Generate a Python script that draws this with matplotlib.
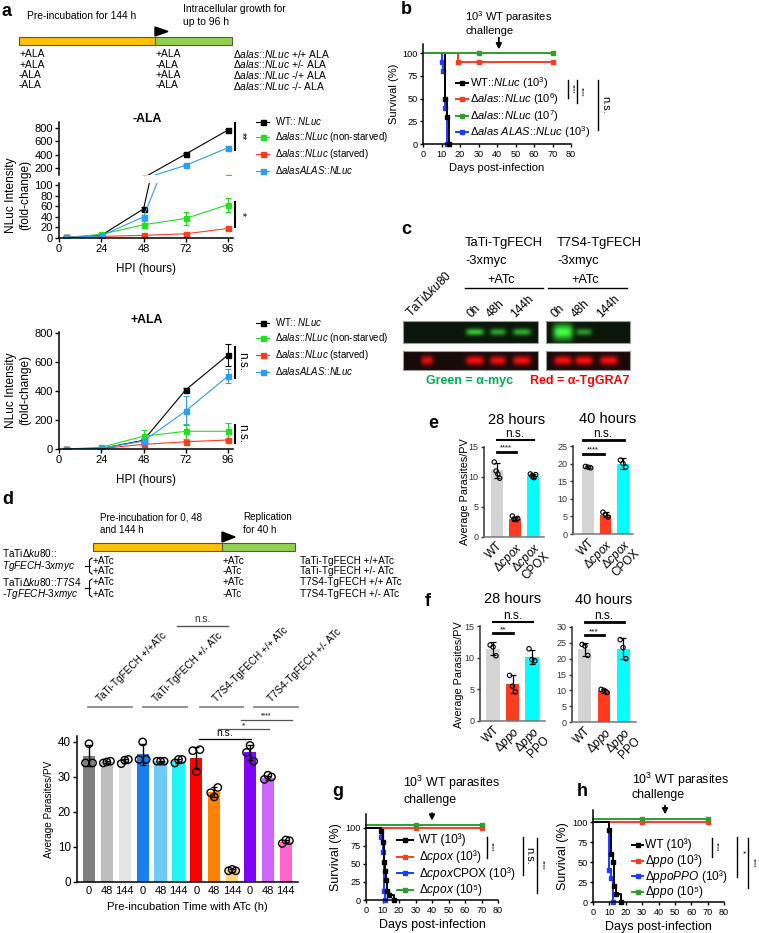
import numpy as np
import matplotlib.pyplot as plt
from matplotlib.lines import Line2D
from matplotlib.patches import Rectangle, Polygon

plt.rcParams['font.family'] = ['Liberation Sans', 'DejaVu Sans']
plt.rcParams['mathtext.fontset'] = 'custom'
plt.rcParams['mathtext.rm'] = 'Liberation Sans'
plt.rcParams['mathtext.it'] = 'Liberation Sans:italic'
plt.rcParams['mathtext.bf'] = 'Liberation Sans:bold'

# ---------------- data ----------------
hpi = [4, 24, 48, 72, 96]
# -ALA
noala_wt = [1, 5, 55, 410, 770]
noala_wt_err = [0, 1, 4, 15, 20]
noala_green = [1, 7, 25, 37, 63]
noala_green_err = [0, 1, 7, 13, 13]
noala_red = [1, 3, 5, 8, 18]
noala_red_err = [0, 0.5, 1, 1, 2]
noala_blue = [1, 4, 40, 240, 505]
noala_blue_err = [0, 1, 4, 15, 30]
# +ALA
ala_wt = [0, 3, 60, 408, 648]
ala_wt_err = [0, 1, 8, 10, 75]
ala_green = [0, 12, 88, 122, 122]
ala_green_err = [0, 3, 45, 50, 58]
ala_red = [0, 3, 32, 50, 62]
ala_red_err = [0, 1, 5, 5, 5]
ala_blue = [0, 5, 55, 262, 503]
ala_blue_err = [0, 1, 8, 100, 50]

# survival b
b_wt_t, b_wt_s = [0, 12, 13, 14], [100, 50, 30, 0]
b_red_t, b_red_s = [0, 19, 30, 70], [100, 90, 90, 90]
b_green_t, b_green_s = [0, 30, 70], [100, 100, 100]
b_blue_t, b_blue_s = [0, 10, 11, 12, 13], [100, 90, 80, 40, 0]
# survival g
g_wt_t, g_wt_s = [0, 9, 10, 11, 11.5, 12, 13, 14, 17], [100, 95, 80, 53, 40, 27, 13, 7, 0]
g_red_t, g_red_s = [0, 30, 70], [100, 100, 100]
g_blue_t, g_blue_s = [0, 9, 10.5, 11, 11.5], [100, 87, 67, 13, 0]
g_green_t, g_green_s = [0, 30, 70], [104, 104, 104]
# survival h
h_wt_t, h_wt_s = [0, 10, 11, 12, 13, 14, 17], [100, 90, 60, 50, 20, 10, 0]
h_red_t, h_red_s = [0, 30, 70], [100, 100, 100]
h_blue_t, h_blue_s = [0, 10, 11, 12], [100, 40, 30, 0]
h_green_t, h_green_s = [0, 30, 70], [104, 104, 104]

# western blot c (relative band intensity)
c_green1 = [0.0, 0.75, 0.6, 0.65]
c_green2 = [1.0, 0.55, 0.0]
c_red1 = [0.9, 1.0, 0.95, 1.0]
c_red2 = [1.0, 1.0, 1.0]

# bar chart d
d_ticks = ['0', '48', '144'] * 4
d_means = [36, 34.3, 34.5, 36.5, 34.5, 34.5, 35.5, 25.7, 3.3, 37, 29.8, 11.5]
d_err = [3, 0.3, 0.6, 3, 0.2, 0.5, 3.2, 1.5, 0.4, 2.2, 0.6, 0.5]
d_points = [[34, 39.5, 34], [34, 34.3, 34.5], [33.8, 34.8, 35], [35, 40, 35],
            [34.5, 34.5, 34.5], [34, 35, 35], [37.5, 31.5, 37.8], [25.5, 24.3, 27],
            [3.2, 3.6, 3.2], [37, 39, 34.5], [29.3, 30.5, 30], [11, 12, 11.8]]
d_groups = ['TaTi-TgFECH +/+ATc', 'TaTi-TgFECH +/- ATc',
            'T7S4-TgFECH +/+ ATc', 'T7S4-TgFECH +/- ATc']

# e / f
e_labels = ['WT', 'Δ$\\it{cpox}$', 'Δ$\\it{cpox}$\nCPOX']
e28_means, e28_err = [11.1, 3.0, 10.2], [1.2, 0.3, 0.3]
e28_pts = [[12.5, 11, 10.5, 9.8], [3.5, 3, 2.9, 3.1], [10.5, 10.2, 9.9, 10.4]]
e40_means, e40_err = [19, 5.5, 20], [0.3, 0.7, 1.5]
e40_pts = [[19.2, 19, 18.8], [6.2, 5.5, 4.8], [21, 20, 19]]
f_labels = ['WT', 'Δ$\\it{ppo}$', 'Δ$\\it{ppo}$\nPPO']
f28_means, f28_err = [11.4, 5.8, 10.1], [1.0, 1.4, 1.1]
f28_pts = [[12, 11.7, 10.3], [7.2, 5.5, 4.6], [11.4, 9.7, 9.5]]
f40_means, f40_err = [23, 9.8, 23.2], [2.0, 0.5, 3.3]
f40_pts = [[24.5, 24, 21], [10.3, 10, 9.3], [26, 23.5, 20]]

g_labels = ['WT (10³)', 'Δ$\\it{cpox}$ (10³)', 'Δ$\\it{cpox}$CPOX (10³)', 'Δ$\\it{cpox}$ (10⁵)']
h_labels = ['WT (10³)', 'Δ$\\it{ppo}$ (10³)', 'Δ$\\it{ppoPPO}$ (10³)', 'Δ$\\it{ppo}$ (10⁵)']

# ---------------- figure ----------------
W, H = 759, 933
fig = plt.figure(figsize=(W / 100, H / 100), dpi=100)

BLACK = '#000000'
LGREEN = '#22e022'
RED = '#ff3b1f'
LBLUE = '#2a9df4'
DGREEN = '#2e9e2e'
BLUE = '#1a3cff'


def px_axes(l, t, r, b):
    ax = fig.add_axes([l / W, 1 - b / H, (r - l) / W, (b - t) / H])
    ax.set_facecolor('none')
    ax.spines[['top', 'right']].set_visible(False)
    for s in ax.spines.values():
        s.set_linewidth(1.1)
    ax.tick_params(direction='out', length=3, width=1.0, labelsize=8, pad=1.5)
    return ax


ov = fig.add_axes([0, 0, 1, 1], zorder=10)
ov.set_facecolor('none')


def T(x, y, s, size=7, **kw):
    kw.setdefault('va', 'center')
    ov.text(x, y, s, fontsize=size, **kw)


def panel(x, y, s):
    T(x, y, s, size=13, weight='bold', ha='left')


# ---------- panel a: timeline ----------
panel(2, 11, 'a')
ov.add_patch(Rectangle((19, 37), 136, 8, facecolor='#ffc000', edgecolor='#555555', lw=0.8))
ov.add_patch(Rectangle((155, 37), 77, 8, facecolor='#92d050', edgecolor='#555555', lw=0.8))
ov.add_patch(Polygon([(155, 27), (155, 36), (168, 31.5)], closed=True, color='k'))
T(27, 16, 'Pre-incubation for 144 h', size=7.4)
T(183, 9, 'Intracellular growth for', size=7.5)
T(183, 22, 'up to 96 h', size=7.5)
a_col1 = ['+ALA', '+ALA', '-ALA', '-ALA']
a_col2 = ['+ALA', '-ALA', '+ALA', '-ALA']
a_col3 = ['+/+', '+/-', '-/+', '-/-']
for i, yy in enumerate([54, 64.5, 75, 85.5]):
    T(19, yy, a_col1[i], size=7.4)
    T(156, yy, a_col2[i], size=7.4)
    T(233, yy, 'Δ$\\it{alas}$::$\\it{NLuc}$ ' + a_col3[i] + ' ALA', size=7.4)


def series_plot(ax, ys, errs, cols, ms=3.6):
    for y, e, c in zip(ys, errs, cols):
        ax.errorbar(hpi, y, yerr=e, color=c, marker='s', ms=ms, lw=0.8,
                    capsize=2, elinewidth=0.8, capthick=0.8, clip_on=True)


a_cols = [BLACK, LGREEN, RED, LBLUE]
a_labels = ['WT:: $\\it{NLuc}$', 'Δ$\\it{alas}$::$\\it{NLuc}$ (non-starved)',
            'Δ$\\it{alas}$::$\\it{NLuc}$ (starved)', 'Δ$\\it{alasALAS}$::$\\it{NLuc}$']


def a_legend(ax, x, y):
    hs = [Line2D([], [], color=c, marker='s', ms=3.6, lw=0.8) for c in a_cols]
    ax.legend(hs, a_labels, loc='upper left', bbox_to_anchor=(x / W, 1 - y / H),
              bbox_transform=fig.transFigure, frameon=False, fontsize=6.9,
              handlelength=1.4, labelspacing=0.32, borderaxespad=0, borderpad=0,
              handletextpad=0.6)


# -ALA broken axis
au = px_axes(59, 122, 233, 175)
al = px_axes(59, 183, 233, 238)
noala = [noala_wt, noala_green, noala_red, noala_blue]
noala_e = [noala_wt_err, noala_green_err, noala_red_err, noala_blue_err]
series_plot(au, noala, noala_e, a_cols)
series_plot(al, noala, noala_e, a_cols)
au.set_ylim(95, 890)
au.set_yticks([200, 400, 600, 800])
au.set_xlim(0, 98.8)
au.spines['bottom'].set_visible(False)
au.set_xticks([])
al.set_ylim(0, 103.8)
al.set_yticks([0, 20, 40, 60, 80, 100])
al.set_xlim(0, 98.8)
al.set_xticks([0, 24, 48, 72, 96])
al.set_xlabel('HPI (hours)', fontsize=8.4, labelpad=6)
T(147, 119, '-ALA', size=8.8, weight='bold', ha='center')
T(18, 195, 'NLuc Intensity\n(fold-change)', size=8.6, rotation=90, ha='center',
  multialignment='center')
a_legend(au, 256, 115)
# significance -ALA
ov.plot([235, 235], [123, 150], color='k', lw=1.5)
T(242, 136, '**', size=7.5, rotation=-90, ha='center')
ov.plot([235, 235], [202, 227], color='k', lw=1.5)
T(242, 214, '*', size=7.5, rotation=-90, ha='center')

# +ALA
ap = px_axes(59, 332, 233, 449)
ala = [ala_wt, ala_green, ala_red, ala_blue]
ala_e = [ala_wt_err, ala_green_err, ala_red_err, ala_blue_err]
series_plot(ap, ala, ala_e, a_cols)
ap.set_ylim(0, 806)
ap.set_yticks([0, 200, 400, 600, 800])
ap.set_xlim(0, 98.8)
ap.set_xticks([0, 24, 48, 72, 96])
ap.set_xlabel('HPI (hours)', fontsize=8.4, labelpad=6)
T(147, 320, '+ALA', size=8.8, weight='bold', ha='center')
T(18, 390, 'NLuc Intensity\n(fold-change)', size=8.6, rotation=90, ha='center',
  multialignment='center')
a_legend(ap, 256, 316)
ov.plot([235, 235], [347, 378], color='k', lw=1.5)
T(242, 362, 'n.s.', size=8.5, rotation=-90, ha='center')
ov.plot([235, 235], [425, 443], color='k', lw=1.5)
T(242, 434, 'n.s.', size=8.5, rotation=-90, ha='center')


# ---------- survival helper ----------
def surv(ax, series, cols, ms=3.2):
    for (t, s), c in zip(series, cols):
        ax.step(t, s, where='post', color=c, lw=1.4, clip_on=False)
        ax.plot(t[1:], s[1:], ls='none', marker='s', ms=ms, color=c, clip_on=False)


def surv_axes(ax, ylim, fs):
    ax.set_xlim(0, 80)
    ax.set_ylim(0, ylim)
    ax.set_xticks(range(0, 81, 10))
    ax.set_yticks([0, 25, 50, 75, 100])
    ax.tick_params(labelsize=6.6, length=2.5)
    ax.set_xlabel('Days post-infection', fontsize=fs, labelpad=3)
    ax.set_ylabel('Survival (%)', fontsize=fs, labelpad=2)


def surv_legend(labels, x0, x1, xt, y0, pitch, fs):
    # legend rows drawn by hand so the row pitch matches the original
    for i, (lab, c) in enumerate(zip(labels, [BLACK, RED, BLUE, DGREEN])):
        yy = y0 + i * pitch
        ov.plot([x0, x1], [yy, yy], color=c, lw=1.4)
        ov.plot([(x0 + x1) / 2], [yy], marker='s', ms=3.2, color=c)
        T(xt, yy, lab, size=fs)


# ---------- panel b ----------
panel(401, 9, 'b')
ab = px_axes(423, 44, 571, 144)
surv(ab, [(b_blue_t, b_blue_s), (b_wt_t, b_wt_s), (b_red_t, b_red_s), (b_green_t, b_green_s)],
     [BLUE, BLACK, RED, DGREEN])
surv_axes(ab, 110, 8)
T(465, 17, '10$^3$ WT parasites', size=8)
T(465, 31, 'challenge', size=8)
ab.annotate('', xy=(41, 101), xytext=(41, 120), xycoords='data', annotation_clip=False,
            arrowprops=dict(arrowstyle='-|>', color='k', lw=1.3, mutation_scale=8))
b_labels = ['WT::$\\it{NLuc}$ (10$^3$)', 'Δ$\\it{alas}$::$\\it{NLuc}$ (10$^6$)',
            'Δ$\\it{alas}$::$\\it{NLuc}$ (10$^7$)', 'Δ$\\it{alas\\ ALAS}$::$\\it{NLuc}$ (10$^3$)']
hs = [Line2D([], [], color=c, marker='s', ms=3.2, lw=1.4) for c in [BLACK, RED, DGREEN, BLUE]]
ab.legend(hs, b_labels, loc='upper left', bbox_to_anchor=(456 / W, 1 - 75 / H),
          bbox_transform=fig.transFigure, frameon=False, fontsize=8, handlelength=1.1,
          labelspacing=0.05, borderaxespad=0, borderpad=0, handletextpad=0.2)
ov.plot([568, 568], [80, 98], color='k', lw=1.0)
T(572, 89, '****', size=4.5, rotation=-90, ha='center')
ov.plot([577, 577], [80, 103], color='k', lw=1.0)
T(581, 92, '****', size=4.5, rotation=-90, ha='center')
ov.plot([598, 598], [80, 130], color='k', lw=1.0)
T(605, 105, 'n.s.', size=8, rotation=-90, ha='center')


# ---------- panel c ----------
panel(401, 229, 'c')
T(465, 243, 'TaTi-TgFECH', size=9.3)
T(465, 261, '-3xmyc', size=9.3)
T(557, 243, 'T7S4-TgFECH', size=9.3)
T(557, 261, '-3xmyc', size=9.3)
T(501, 280, '+ATc', size=9.2, ha='center')
ov.plot([465, 543], [288, 288], color='k', lw=1.0)
T(585, 280, '+ATc', size=9.2, ha='center')
ov.plot([548, 627], [288, 288], color='k', lw=1.0)
T(411, 318, 'TaTiΔ$\\it{ku80}$', size=8.6, rotation=45, rotation_mode='anchor',
  ha='left', va='baseline')
for xx, s in zip([472, 491, 515, 556, 576, 601], ['0h', '48h', '144h'] * 2):
    T(xx, 318, s, size=8.6, rotation=45, rotation_mode='anchor', ha='left', va='baseline')


def blot(x0, x1, y0, y1, lanes, intens, widths, hh, col, bg):
    nx, ny = int((x1 - x0) * 4), int((y1 - y0) * 4)
    X, Y = np.meshgrid(np.linspace(x0, x1, nx), np.linspace(y0, y1, ny))
    yc = (y0 + y1) / 2
    img = np.zeros_like(X)
    for xc, v, w, h in zip(lanes, intens, widths, hh):
        img += v * np.exp(-((X - xc) / w) ** 4) * np.exp(-((Y - yc) / h) ** 2)
    img = np.clip(img, 0, 1)[..., None]
    rgb = np.array(bg)[None, None, :] * (1 - img) + np.array(col)[None, None, :] * img
    ov.imshow(rgb, extent=(x0, x1, y1, y0), interpolation='bilinear', zorder=2)
    ov.add_patch(Rectangle((x0, y0), x1 - x0, y1 - y0, fill=False, ec='#9a9a9a', lw=0.8, zorder=3))


gcol, rcol = (0.25, 1.0, 0.25), (1.0, 0.05, 0.05)
gbg, rbg = (0.04, 0.09, 0.04), (0.1, 0.04, 0.04)
blot(403, 538, 321, 343, [427, 475, 498, 522], c_green1, [8, 9, 8, 9], [3.5] * 4, gcol, gbg)
blot(546, 630, 321, 343, [563, 584, 609], c_green2, [10, 8, 8], [8, 3.5, 3.5], gcol, gbg)
blot(403, 538, 351, 370, [427, 475, 498, 522], c_red1, [6, 9, 8, 9], [4.5] * 4, rcol, rbg)
blot(546, 630, 351, 370, [563, 584, 609], c_red2, [9, 9, 9], [4.5] * 3, rcol, rbg)
T(426, 381, 'Green = α-myc', size=9, color='#00b050', weight='bold')
T(530, 381, 'Red = α-TgGRA7', size=9, color='#ff0000', weight='bold')


# ---------- panel d ----------
panel(2, 499, 'd')
ov.add_patch(Rectangle((93, 543), 129, 8, facecolor='#ffc000', edgecolor='#555555', lw=0.8))
ov.add_patch(Rectangle((222, 543), 73, 8, facecolor='#92d050', edgecolor='#555555', lw=0.8))
ov.add_patch(Polygon([(222, 532), (222, 542), (235, 537)], closed=True, color='k'))
T(100, 517, 'Pre-incubation for 0, 48', size=7.1)
T(100, 530, 'and 144 h', size=7.1)
T(243, 517, 'Replication', size=7.1)
T(243, 530, 'for 40 h', size=7.1)
d_col2 = ['+ATc', '-ATc', '+ATc', '-ATc']
d_col3 = ['TaTi-TgFECH +/+ATc', 'TaTi-TgFECH +/- ATc', 'T7S4-TgFECH +/+ ATc', 'T7S4-TgFECH +/- ATc']
for i, yy in enumerate([561, 571, 582, 594]):
    T(93, yy, '+ATc', size=7.2)
    T(223, yy, d_col2[i], size=7.2)
    T(300, yy, d_col3[i], size=7.2)
T(2, 553, 'TaTiΔ$\\it{ku80}$::', size=7.2)
T(2, 566, '$\\it{TgFECH}$-$\\it{3xmyc}$', size=7.2)
T(2, 582, 'TaTiΔ$\\it{ku80}$::$\\it{T7S4}$', size=7.2)
T(2, 594, '-$\\it{TgFECH}$-$\\it{3xmyc}$', size=7.2)
for y0, y1 in [(558, 574), (579, 597)]:
    ym = (y0 + y1) / 2
    ov.plot([92, 89.5, 89.5, 92], [y0, y0 + 2, y1 - 2, y1], color='k', lw=0.8)
    ov.plot([85, 89.5], [ym, ym], color='k', lw=0.8)

ad = px_axes(77, 736, 298, 882)
d_cols = ['#7f7f7f', '#bdbdbd', '#e4e4e4', '#1580f0', '#6dccf7', '#1ff5f5',
          '#ff0000', '#ff8200', '#ffd27a', '#7f00ff', '#cc66ff', '#ff66cc']
xs = np.arange(len(d_means))
ad.bar(xs, d_means, width=0.68, color=d_cols, zorder=1)
ad.errorbar(xs, d_means, yerr=d_err, ls='none', color='k', capsize=2.5, elinewidth=1,
            capthick=1, zorder=2)
for i, pts in enumerate(d_points):
    ad.scatter(xs[i] + np.array([-0.2, 0, 0.2]), pts, s=28, facecolor='none',
               edgecolor='k', lw=1.0, zorder=3, clip_on=False)
ad.set_xlim(-0.67, 11.68)
ad.set_ylim(0, 41.7)
ad.set_yticks([0, 10, 20, 30, 40])
ad.set_xticks(xs)
ad.set_xticklabels(d_ticks)
ad.tick_params(axis='x', length=0, pad=3, labelsize=8)
ad.tick_params(axis='y', labelsize=8.4)
ad.set_xlabel('Pre-incubation Time with ATc (h)', fontsize=8.1, labelpad=4)
ad.set_ylabel('Average Parasites/PV', fontsize=7.2, labelpad=3)
for xx, s in zip([101, 157, 217, 272], d_groups):
    T(xx, 703, s, size=7.2, rotation=45, rotation_mode='anchor', ha='left', va='baseline')
for x0, x1 in [(88, 132), (143, 187), (200, 243), (254, 298)]:
    ov.plot([x0, x1], [707, 707], color='#8a8a8a', lw=1.3)
ov.plot([177, 228], [626, 626], color='#555555', lw=1.0)
T(202, 619, 'n.s.', size=7.2, ha='center', color='#333333')
ov.plot([199, 251], [739, 739], color='k', lw=0.9)
T(225, 733, 'n.s.', size=7.5, ha='center')
ov.plot([218, 269], [729, 729], color='#555555', lw=0.9)
T(243, 726, '*', size=6, ha='center')
ov.plot([241, 292], [720, 720], color='#555555', lw=0.9)
T(266, 716, '****', size=5, ha='center')


# ---------- panels e / f ----------
ef_cols = ['#d4d4d4', '#ff3b1f', '#00ffff']


def small_bars(l, t, r, b, xlim, ylim, yt, means, errs, pts, labels, title, tx):
    ax = px_axes(l, t, r, b)
    x = np.arange(3)
    ax.bar(x, means, width=0.68, color=ef_cols, zorder=1)
    ax.errorbar(x, means, yerr=errs, ls='none', color='k', capsize=2, elinewidth=0.9,
                capthick=0.9, zorder=2)
    for i, p in enumerate(pts):
        off = np.linspace(-0.15, 0.15, len(p))
        ax.scatter(x[i] + off, p, s=10, facecolor='none', edgecolor='k', lw=0.8, zorder=3)
    ax.set_xlim(*xlim)
    ax.set_ylim(0, ylim)
    ax.set_yticks(yt)
    ax.set_xticks(x)
    ax.set_xticklabels(labels, rotation=45, ha='right', rotation_mode='anchor',
                       fontsize=8.5, linespacing=0.9)
    ax.tick_params(axis='x', length=0, pad=2)
    ax.tick_params(axis='y', labelsize=6.5, length=2.5, colors='#333333')
    ax.spines['bottom'].set_color('#777777')
    ax.spines['left'].set_color('#333333')
    T(tx, t - 27, title, size=10.5, ha='center')
    return ax


panel(428, 424, 'e')
small_bars(484, 447, 544, 537, (-0.72, 2.61), 15, [0, 5, 10, 15], e28_means, e28_err,
           e28_pts, e_labels, '28 hours', 517)
small_bars(573, 446, 633, 534, (-0.86, 2.57), 25, [0, 5, 10, 15, 20, 25], e40_means,
           e40_err, e40_pts, e_labels, '40 hours', 608)
T(465, 492, 'Average Parasites/PV', size=7.8, rotation=90, ha='center')
ov.plot([497, 516], [452, 452], color='k', lw=2)
T(506, 448, '****', size=5.5, ha='center')
ov.plot([497, 534], [440, 440], color='k', lw=1.5)
T(515, 434, 'n.s.', size=8.5, ha='center')
ov.plot([583, 604], [454, 454], color='k', lw=2)
T(593, 450, '****', size=5.5, ha='center')
ov.plot([583, 624], [440, 440], color='k', lw=2)
T(603, 434, 'n.s.', size=8.5, ha='center')

panel(425, 602, 'f')
small_bars(480, 626, 545, 721, (-0.67, 2.67), 15, [0, 5, 10, 15], f28_means, f28_err,
           f28_pts, f_labels, '28 hours', 513)
small_bars(572, 627, 636, 722, (-0.68, 2.68), 30, [0, 5, 10, 15, 20, 25, 30], f40_means,
           f40_err, f40_pts, f_labels, '40 hours', 604)
T(459, 675, 'Average Parasites/PV', size=7.8, rotation=90, ha='center')
ov.plot([493, 513], [633, 633], color='k', lw=2)
T(503, 630, '**', size=6, ha='center')
ov.plot([493, 533], [622, 622], color='k', lw=1.5)
T(513, 616, 'n.s.', size=8.5, ha='center')
ov.plot([585, 604], [635, 635], color='k', lw=2)
T(594, 632, '***', size=6, ha='center')
ov.plot([585, 624], [622, 622], color='k', lw=2)
T(604, 616, 'n.s.', size=8.5, ha='center')


# ---------- panels g / h ----------
def challenge(ax, xday, tx, ty, dy):
    T(tx, ty, '10$^3$ WT parasites', size=8.9)
    T(tx, ty + dy, 'challenge', size=8.9)
    ax.annotate('', xy=(xday, 106), xytext=(xday, 124), xycoords='data',
                annotation_clip=False,
                arrowprops=dict(arrowstyle='-|>', color='k', lw=1.3, mutation_scale=8))


panel(332, 791, 'g')
ag = px_axes(366, 814, 498, 900)
surv(ag, [(g_red_t, g_red_s), (g_green_t, g_green_s), (g_blue_t, g_blue_s), (g_wt_t, g_wt_s)],
     [RED, DGREEN, BLUE, BLACK], ms=3)
surv_axes(ag, 119, 9)
challenge(ag, 40, 403, 783, 17)
surv_legend(g_labels, 397, 413, 419, 840, 16.7, 8.6)
ov.plot([487, 487], [837, 858], color='k', lw=1.0)
T(491, 847, '****', size=4.5, rotation=-90, ha='center')
ov.plot([523, 523], [837, 875], color='k', lw=1.0)
T(529, 856, 'n.s.', size=8, rotation=-90, ha='center')
ov.plot([537, 537], [838, 893], color='k', lw=1.0)
T(542, 865, '****', size=4.5, rotation=-90, ha='center')

panel(577, 791, 'h')
ah = px_axes(593, 810, 724, 902)
surv(ah, [(h_red_t, h_red_s), (h_green_t, h_green_s), (h_blue_t, h_blue_s), (h_wt_t, h_wt_s)],
     [RED, DGREEN, BLUE, BLACK], ms=3)
surv_axes(ah, 115, 9)
challenge(ah, 44, 632, 780, 15)
surv_legend(h_labels, 632, 643, 645, 845, 15.7, 8.6)
ov.plot([712, 712], [838, 857], color='k', lw=1.0)
T(716, 847, '****', size=4.5, rotation=-90, ha='center')
ov.plot([737, 737], [837, 877], color='k', lw=1.0)
T(742, 852, '*', size=6, rotation=-90, ha='center')
ov.plot([748, 748], [838, 888], color='k', lw=1.0)
T(753, 863, '****', size=4.5, rotation=-90, ha='center')

ov.set_xlim(0, W)
ov.set_ylim(H, 0)
ov.set_aspect('auto')
ov.axis('off')

fig.savefig('out.png', dpi=100)
